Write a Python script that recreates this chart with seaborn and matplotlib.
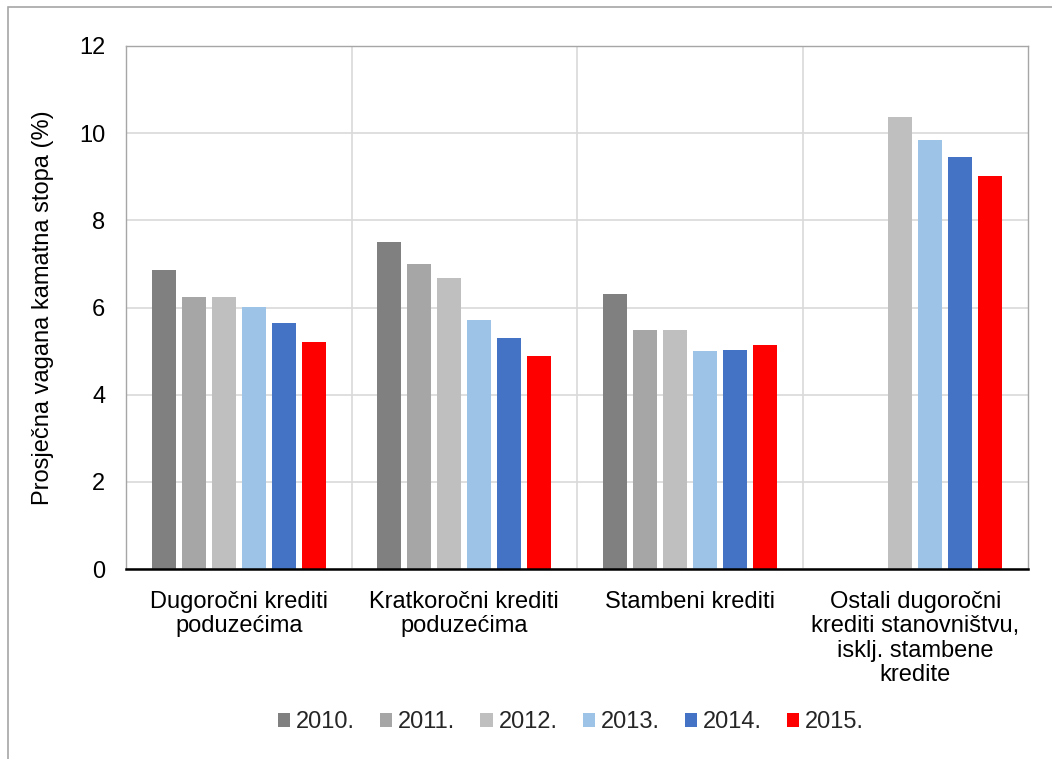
import numpy as np
import pandas as pd
import matplotlib
matplotlib.use("Agg")
import matplotlib.pyplot as plt
from matplotlib.patches import Rectangle
import seaborn as sns

categories = [
    "Dugoročni krediti\npoduzećima",
    "Kratkoročni krediti\npoduzećima",
    "Stambeni krediti",
    "Ostali dugoročni\nkrediti stanovništvu,\nisklj. stambene\nkredite",
]
years = ["2010.", "2011.", "2012.", "2013.", "2014.", "2015."]
v2010 = [6.86, 7.50, 6.31, np.nan]
v2011 = [6.23, 6.99, 5.49, np.nan]
v2012 = [6.24, 6.67, 5.49, 10.38]
v2013 = [6.02, 5.72, 5.00, 9.85]
v2014 = [5.64, 5.31, 5.03, 9.45]
v2015 = [5.21, 4.88, 5.13, 9.02]
colors = ["#808080", "#A6A6A6", "#BFBFBF", "#9DC3E6", "#4472C4", "#FF0000"]
yticks = [0, 2, 4, 6, 8, 10, 12]
ylabel = "Prosječna vagana kamatna stopa (%)"

series = [v2010, v2011, v2012, v2013, v2014, v2015]
rows = []
for y, vals in zip(years, series):
    for c, v in zip(categories, vals):
        rows.append({"cat": c, "year": y, "val": v})
df = pd.DataFrame(rows)

sns.set_theme(style="white")
plt.rcParams["font.family"] = ["Liberation Sans", "DejaVu Sans"]

FS = 17
fig = plt.figure(figsize=(10.52, 7.59), dpi=100)
ax = fig.add_axes([126 / 1052, 1 - 569 / 759, (1028 - 126) / 1052, (569 - 46) / 759])

sns.barplot(data=df, x="cat", y="val", hue="year", order=categories, hue_order=years,
            palette=colors, errorbar=None, width=0.8, gap=0.2, linewidth=0,
            saturation=1, ax=ax)

ax.set_xlim(-0.5, 3.5)
ax.set_ylim(0, 12)
ax.set_yticks(yticks)
ax.set_yticklabels([str(t) for t in yticks])
ax.set_xlabel("")
ax.set_ylabel(ylabel, fontsize=FS, labelpad=18, color="black")
ax.tick_params(axis="y", length=0, pad=15, labelsize=FS, labelcolor="black")
ax.tick_params(axis="x", length=0, pad=16, labelsize=FS, labelcolor="black")
for lab in ax.get_xticklabels():
    lab.set_linespacing(1.13)
    lab.set_verticalalignment("top")

ax.set_xticks([0.5, 1.5, 2.5], minor=True)
ax.grid(axis="y", which="major", color="#D9D9D9", linewidth=1.2)
ax.grid(axis="x", which="minor", color="#D9D9D9", linewidth=1.2)
ax.grid(axis="x", which="major", visible=False)
ax.tick_params(axis="x", which="minor", length=0)
ax.set_axisbelow(True)

for side in ["left", "top", "right"]:
    ax.spines[side].set_color("#A6A6A6")
    ax.spines[side].set_linewidth(1.0)
ax.spines["bottom"].set_color("black")
ax.spines["bottom"].set_linewidth(1.8)

handles, labels = ax.get_legend_handles_labels()
ax.legend(handles, labels, loc="center", bbox_to_anchor=(571 / 1052, 1 - 722 / 759),
          bbox_transform=fig.transFigure, ncol=6, frameon=False, fontsize=FS,
          handlelength=0.52, handleheight=0.52, handletextpad=0.25, columnspacing=1.06)

fig.patches.append(Rectangle((8 / 1052, -0.05), 1.2, 1 - 7 / 759 + 0.05,
                             transform=fig.transFigure, fill=False,
                             edgecolor="#A6A6A6", linewidth=1.2))

fig.savefig("out.png", dpi=100)
